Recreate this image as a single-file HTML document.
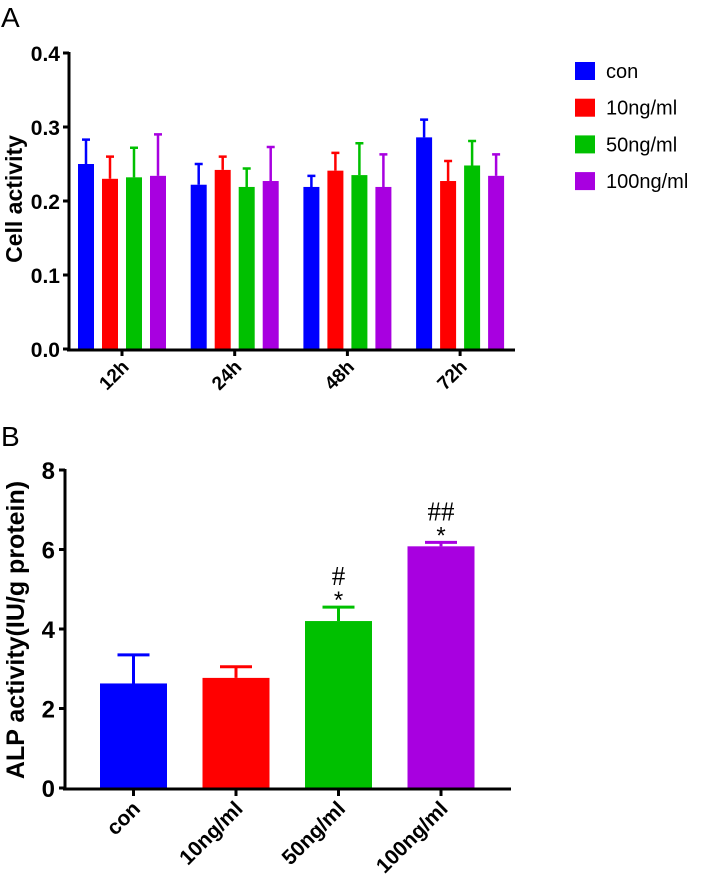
<!DOCTYPE html>
<html><head><meta charset="utf-8"><style>
body{margin:0;background:#fff;}
svg{display:block;font-family:"Liberation Sans",Arial,sans-serif;}
</style></head><body>
<svg id="fig" width="709" height="889"></svg>
<script>
// Chart A data
const aGroups=["12h","24h","48h","72h"];
const aSeries=["con","10ng/ml","50ng/ml","100ng/ml"];
const aColors=["#0000ff","#ff0000","#00c000","#a800e0"];
const aMeans=[[0.250,0.222,0.219,0.286],[0.230,0.242,0.241,0.227],[0.232,0.219,0.235,0.248],[0.234,0.227,0.219,0.234]];
const aErrTop=[[0.283,0.250,0.234,0.310],[0.260,0.260,0.265,0.254],[0.272,0.244,0.278,0.281],[0.290,0.273,0.263,0.263]];
const aTicks=[0,0.1,0.2,0.3,0.4];
const aTickLabels=["0.0","0.1","0.2","0.3","0.4"];
// Chart B data
const bCats=["con","10ng/ml","50ng/ml","100ng/ml"];
const bMeans=[2.63,2.77,4.20,6.08];
const bErrTop=[3.35,3.05,4.55,6.18];
const bTicks=[0,2,4,6,8];
const bMarks=[["",""],["",""],["#","*"],["##","*"]];

const NS="http://www.w3.org/2000/svg";
const svg=document.getElementById('fig');
function mk(tag,attrs,parent,text){const e=document.createElementNS(NS,tag);for(const k in attrs)e.setAttribute(k,attrs[k]);if(text!==undefined)e.textContent=text;(parent||svg).appendChild(e);return e;}

let t=mk('text',{x:1,y:27,'font-size':28},svg,'A');


t=mk('text',{x:1,y:446,'font-size':28},svg,'B');



// ---- Chart A ----
const aY=v=>349-v*740;
const aX=(g,s)=>122+g*112.7+(s-1.5)*24;
const gA=mk('g',{});


aSeries.forEach((s,si)=>{aGroups.forEach((g,gi)=>{
  const cx=aX(gi,si),y=aY(aMeans[si][gi]),ye=aY(aErrTop[si][gi]);
  const r=mk('rect',{x:cx-8,y:y,width:16,height:349-y,fill:aColors[si]},gA);
  
  
  const e=mk('path',{d:`M${cx} ${y}V${ye}M${cx-4} ${ye}H${cx+4}`,stroke:aColors[si],'stroke-width':2.5,fill:'none'},gA);
  
  
});});
mk('path',{d:'M69 52V350M67 350H515',stroke:'#000','stroke-width':3,fill:'none'},gA);
aTicks.forEach((v,i)=>{
  mk('path',{d:`M63 ${aY(v)}H69`,stroke:'#000','stroke-width':3},gA);
  const l=mk('text',{x:60,y:aY(v)+8,'font-size':21,'font-weight':'bold','text-anchor':'end'},gA,aTickLabels[i]);
  
  
});
aGroups.forEach((g,gi)=>{
  const cx=aX(gi,1.5);
  mk('path',{d:`M${cx} 349V356`,stroke:'#000','stroke-width':3},gA);
  const l=mk('text',{x:cx+8,y:368,'font-size':19,'font-weight':'bold','text-anchor':'end',transform:`rotate(-45 ${cx+8} 368)`},gA,g);
  
  
});
t=mk('text',{x:22,y:199,'font-size':23,'font-weight':'bold','text-anchor':'middle',transform:'rotate(-90 22 199)'},gA,'Cell activity');


aSeries.forEach((s,si)=>{
  const y=71+si*36.7;
  const r=mk('rect',{x:575,y:y-9,width:20,height:18,fill:aColors[si]},gA);
  
  
  const l=mk('text',{x:606,y:y+7,'font-size':20},gA,s);
  
  
});

// ---- Chart B ----
const bY=v=>788-v*39.75;
const bX=i=>133.5+i*102.5;
const gB=mk('g',{});


bCats.forEach((c,i)=>{
  const cx=bX(i),y=bY(bMeans[i]),ye=bY(bErrTop[i]);
  const e=mk('path',{d:`M${cx} ${y}V${ye}M${cx-16} ${ye}H${cx+16}`,stroke:aColors[i],'stroke-width':3,fill:'none'},gB);
  
  
  const r=mk('rect',{x:cx-33.5,y:y,width:67,height:788-y,fill:aColors[i]},gB);
  
  
  if(bMarks[i][0]){
    const h=mk('text',{x:cx,y:ye-22,'font-size':27,'font-family':'Liberation Serif,serif','text-anchor':'middle'},gB,bMarks[i][0]);
    
    
    const s=mk('text',{x:cx,y:ye+1,'font-size':24,'text-anchor':'middle'},gB,bMarks[i][1]);
    
    
  }
  mk('path',{d:`M${cx} 788V796`,stroke:'#000','stroke-width':3},gB);
  const l=mk('text',{x:cx+8,y:810,'font-size':21,'font-weight':'bold','text-anchor':'end',transform:`rotate(-45 ${cx+8} 810)`},gB,c);
  
  
});
mk('path',{d:'M65 469V789M63 789H511',stroke:'#000','stroke-width':3,fill:'none'},gB);
bTicks.forEach(v=>{
  mk('path',{d:`M59 ${bY(v)}H65`,stroke:'#000','stroke-width':3},gB);
  const l=mk('text',{x:55,y:bY(v)+9,'font-size':24,'font-weight':'bold','text-anchor':'end'},gB,String(v));
  
  
});
t=mk('text',{x:24,y:630,'font-size':25,'font-weight':'bold','text-anchor':'middle',transform:'rotate(-90 24 630)'},gB,'ALP activity(IU/g protein)');


</script>
</body></html>
